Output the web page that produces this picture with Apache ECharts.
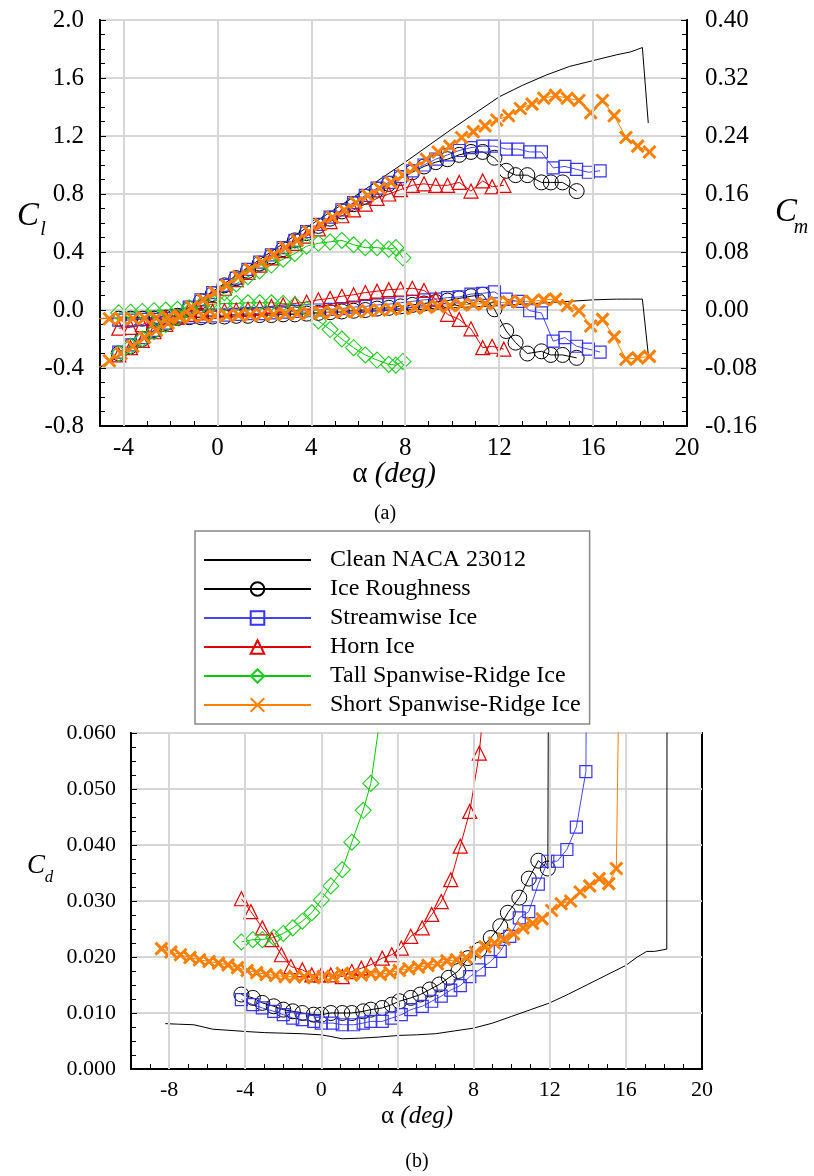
<!DOCTYPE html>
<html>
<head>
<meta charset="utf-8">
<script src="https://cdn.jsdelivr.net/npm/echarts@6/dist/echarts.min.js"></script>
<style>
html,body{margin:0;padding:0;background:#fff;}
#chart{width:814px;height:1176px;}
</style>
</head>
<body>
<div id="chart"></div>
<script>
// ---------------- DATA ----------------
const seriesNames = ['Clean NACA 23012','Ice Roughness','Streamwise Ice','Horn Ice','Tall Spanwise-Ridge Ice','Short Spanwise-Ridge Ice'];
const topXTicks = [-4,0,4,8,12,16,20];
const botXTicks = [-8,-4,0,4,8,12,16,20];

// Clean NACA 23012 (line only)
const cleanAlpha = [-5.5,-4,-2,0,2,4,6,8,10,12,13,14,15,16,17,17.6,18.1,18.35];
const cleanCl = [-0.45,-0.29,-0.07,0.15,0.37,0.59,0.80,1.02,1.25,1.47,1.55,1.62,1.68,1.72,1.76,1.78,1.81,1.29];
const cleanCm = [-0.012,-0.011,-0.010,-0.008,-0.006,-0.004,-0.002,0.000,0.003,0.006,0.008,0.010,0.012,0.014,0.015,0.015,0.015,-0.061];
const cleanAlphaD = [-8.2,-7.5,-6.7,-5.7,-4.8,-4.0,-3.0,-2.0,-1.0,0.0,0.5,1.1,2.0,3.0,4.1,5.0,6.0,7.0,8.0,9.0,10.0,11.0,12.0,13.0,14.0,15.0,16.0,16.6,17.1,17.5,18.15,18.2];
const cleanCd = [0.0081,0.0080,0.0079,0.0071,0.0069,0.0067,0.0065,0.0064,0.0063,0.0061,0.0058,0.0054,0.0055,0.0057,0.0060,0.0061,0.0063,0.0068,0.0073,0.0082,0.0094,0.0106,0.0118,0.0134,0.0151,0.0168,0.0185,0.0200,0.0210,0.0210,0.0214,0.2];

// Ice Roughness
const roughAlpha = [-4.2,-3.7,-3.2,-2.7,-2.2,-1.7,-1.2,-0.7,-0.2,0.3,0.8,1.3,1.8,2.3,2.8,3.3,3.8,4.3,4.8,5.3,5.8,6.3,6.8,7.3,7.8,8.3,8.8,9.3,9.8,10.3,10.8,11.3,11.8,12.3,12.7,13.2,13.8,14.2,14.7,15.3];
const roughCl = [-0.30,-0.25,-0.20,-0.14,-0.09,-0.04,0.01,0.06,0.11,0.17,0.22,0.27,0.32,0.37,0.42,0.48,0.53,0.58,0.63,0.68,0.73,0.78,0.83,0.87,0.91,0.95,0.99,1.02,1.04,1.07,1.09,1.09,1.05,0.96,0.93,0.93,0.88,0.88,0.88,0.82];
const roughCm = [-0.012,-0.012,-0.012,-0.012,-0.011,-0.011,-0.010,-0.010,-0.009,-0.009,-0.008,-0.008,-0.007,-0.007,-0.006,-0.006,-0.005,-0.004,-0.003,-0.002,-0.001,0.000,0.002,0.003,0.005,0.007,0.009,0.011,0.013,0.016,0.019,0.021,0.001,-0.029,-0.045,-0.060,-0.057,-0.062,-0.062,-0.066];
const roughAlphaD = [-4.2,-3.6,-3.1,-2.5,-2.0,-1.5,-1.0,-0.4,0.0,0.5,1.1,1.6,2.2,2.6,3.2,3.7,4.1,4.7,5.2,5.7,6.2,6.7,7.2,7.7,8.3,8.9,9.4,9.8,10.4,10.9,11.4,11.9,12.0];
const roughCd = [0.0133,0.0127,0.0118,0.0112,0.0106,0.0103,0.0100,0.0097,0.0097,0.0100,0.0100,0.0100,0.0103,0.0106,0.0109,0.0115,0.0121,0.0127,0.0133,0.0142,0.0151,0.0163,0.0175,0.0198,0.0213,0.0234,0.0255,0.0279,0.0306,0.0340,0.0372,0.0358,0.15];

// Streamwise Ice
const streamAlpha = [-4.2,-3.7,-3.2,-2.7,-2.2,-1.7,-1.2,-0.7,-0.2,0.3,0.8,1.3,1.8,2.3,2.8,3.3,3.8,4.3,4.8,5.3,5.8,6.3,6.8,7.3,7.8,8.3,8.8,9.3,9.8,10.3,10.8,11.3,11.8,12.3,12.8,13.3,13.8,14.3,14.8,15.3,15.8,16.3];
const streamCl = [-0.29,-0.24,-0.19,-0.14,-0.09,-0.04,0.02,0.07,0.12,0.17,0.22,0.28,0.33,0.38,0.43,0.48,0.54,0.59,0.64,0.69,0.74,0.79,0.84,0.88,0.92,0.96,1.00,1.04,1.07,1.10,1.12,1.13,1.13,1.11,1.11,1.09,1.09,0.98,0.99,0.97,0.95,0.96];
const streamCm = [-0.014,-0.014,-0.013,-0.013,-0.012,-0.011,-0.010,-0.009,-0.008,-0.007,-0.006,-0.005,-0.005,-0.004,-0.003,-0.002,-0.001,0.000,0.001,0.002,0.004,0.005,0.007,0.008,0.010,0.012,0.014,0.015,0.017,0.018,0.022,0.023,0.025,0.015,0.012,-0.001,-0.004,-0.043,-0.038,-0.050,-0.054,-0.058];
const streamAlphaD = [-4.2,-3.6,-3.1,-2.5,-2.0,-1.5,-1.0,-0.4,0.0,0.6,1.1,1.7,2.2,2.6,3.2,3.7,4.2,4.7,5.3,5.8,6.3,6.8,7.3,7.8,8.3,8.9,9.4,9.9,10.4,10.9,11.4,11.9,12.4,12.9,13.4,13.9,14.0];
const streamCd = [0.0124,0.0115,0.0109,0.0103,0.0097,0.0091,0.0088,0.0085,0.0082,0.0082,0.0079,0.0079,0.0082,0.0085,0.0085,0.0091,0.0097,0.0106,0.0112,0.0121,0.0130,0.0141,0.0149,0.0165,0.0177,0.0192,0.0210,0.0237,0.0270,0.0281,0.0330,0.0371,0.0371,0.0392,0.0432,0.0531,0.12];

// Horn Ice
const hornAlpha = [-4.2,-3.7,-3.2,-2.7,-2.2,-1.7,-1.2,-0.7,-0.2,0.3,0.8,1.3,1.8,2.3,2.8,3.3,3.8,4.3,4.8,5.3,5.8,6.3,6.8,7.3,7.8,8.3,8.8,9.3,9.8,10.3,10.8,11.3,11.7,12.2];
const hornCl = [-0.31,-0.26,-0.21,-0.15,-0.10,-0.05,0.00,0.05,0.10,0.15,0.21,0.26,0.31,0.36,0.41,0.46,0.51,0.56,0.61,0.65,0.69,0.73,0.77,0.80,0.83,0.86,0.87,0.86,0.86,0.88,0.82,0.89,0.85,0.86];
const hornCm = [-0.025,-0.024,-0.020,-0.014,-0.010,-0.008,-0.006,-0.004,-0.002,-0.001,0.000,0.001,0.003,0.005,0.007,0.009,0.011,0.014,0.016,0.019,0.021,0.024,0.026,0.028,0.029,0.030,0.027,0.015,-0.006,-0.013,-0.026,-0.052,-0.050,-0.054];
const hornAlphaD = [-4.2,-3.7,-3.1,-2.6,-2.1,-1.6,-1.0,-0.5,0.0,0.5,1.1,1.6,2.1,2.6,3.2,3.7,4.2,4.7,5.3,5.8,6.3,6.8,7.3,7.8,8.3,8.5];
const hornCd = [0.0304,0.0281,0.0252,0.0231,0.0204,0.0183,0.0177,0.0168,0.0168,0.0168,0.0165,0.0174,0.0180,0.0186,0.0198,0.0204,0.0216,0.0237,0.0252,0.0276,0.0299,0.0338,0.0398,0.0460,0.0564,0.064];

// Tall Spanwise-Ridge Ice
const tallAlpha = [-4.2,-3.7,-3.2,-2.7,-2.2,-1.7,-1.2,-0.7,-0.2,0.3,0.8,1.3,1.8,2.3,2.8,3.3,3.8,4.3,4.8,5.3,5.8,6.3,6.8,7.3,7.6,7.9];
const tallCl = [-0.30,-0.25,-0.20,-0.15,-0.10,-0.05,-0.01,0.03,0.06,0.12,0.18,0.23,0.27,0.31,0.35,0.39,0.44,0.46,0.47,0.48,0.45,0.43,0.43,0.42,0.43,0.36];
const tallCm = [-0.004,-0.003,-0.002,-0.001,0.000,0.001,0.003,0.006,0.008,0.009,0.009,0.010,0.010,0.010,0.009,0.007,0.001,-0.015,-0.027,-0.040,-0.052,-0.062,-0.069,-0.075,-0.076,-0.071];
const tallAlphaD = [-4.2,-3.6,-3.1,-2.5,-2.0,-1.5,-1.0,-0.5,0.0,0.5,1.1,1.6,2.2,2.6,3.1];
const tallCd = [0.0227,0.0231,0.0231,0.0235,0.0242,0.0252,0.0264,0.0279,0.0302,0.0327,0.0356,0.0405,0.0462,0.0510,0.063];

// Short Spanwise-Ridge Ice
const shortAlpha = [-5.1,-4.6,-4.1,-3.6,-3.1,-2.6,-2.1,-1.6,-1.1,-0.6,-0.1,0.4,0.9,1.4,1.9,2.4,2.9,3.4,3.9,4.4,4.9,5.4,5.9,6.4,6.9,7.4,7.9,8.4,8.9,9.4,9.9,10.4,10.9,11.4,11.9,12.4,12.9,13.4,13.9,14.4,14.9,15.4,15.9,16.4,16.9,17.4,17.9,18.4];
const shortCl = [-0.40,-0.35,-0.30,-0.25,-0.19,-0.14,-0.09,-0.04,0.02,0.07,0.12,0.17,0.23,0.28,0.33,0.38,0.43,0.48,0.54,0.59,0.64,0.69,0.74,0.79,0.84,0.88,0.93,0.98,1.04,1.09,1.13,1.19,1.23,1.27,1.31,1.34,1.39,1.42,1.46,1.48,1.46,1.445,1.36,1.445,1.34,1.19,1.13,1.09];
const shortCm = [-0.012,-0.012,-0.012,-0.012,-0.011,-0.011,-0.010,-0.010,-0.009,-0.009,-0.008,-0.008,-0.007,-0.007,-0.006,-0.006,-0.005,-0.005,-0.004,-0.004,-0.003,-0.002,-0.002,-0.001,0.000,0.001,0.002,0.003,0.004,0.005,0.006,0.007,0.008,0.009,0.010,0.011,0.012,0.012,0.014,0.015,0.006,-0.001,-0.022,-0.013,-0.037,-0.068,-0.066,-0.064];
const shortAlphaD = [-8.4,-7.9,-7.4,-6.9,-6.4,-5.9,-5.4,-4.9,-4.4,-3.9,-3.4,-2.9,-2.4,-1.9,-1.4,-0.9,-0.4,0.1,0.6,1.1,1.6,2.1,2.6,3.1,3.6,4.1,4.6,5.1,5.6,6.1,6.6,7.1,7.6,8.1,8.6,9.1,9.6,10.1,10.6,11.1,11.6,12.1,12.6,13.1,13.6,14.1,14.6,15.1,15.5,15.8];
const shortCd = [0.0215,0.0209,0.0204,0.0199,0.0195,0.0192,0.0189,0.0186,0.0181,0.0176,0.0172,0.0169,0.0167,0.0165,0.0165,0.0165,0.0163,0.0165,0.0165,0.0171,0.0168,0.0168,0.0170,0.0169,0.0172,0.0176,0.0179,0.0182,0.0185,0.0188,0.0193,0.0195,0.0199,0.0208,0.0218,0.0225,0.0232,0.0241,0.0252,0.0260,0.0268,0.0283,0.0295,0.0300,0.0316,0.0327,0.0340,0.0331,0.0358,0.11];

// ---------------- STYLE ----------------
const FONT = "'Liberation Serif','Times New Roman',serif";
const GRIDC = '#d6d6d6';
const XPATH = 'path://M0 0L10 10M10 0L0 10';
const styles = {
  'Clean NACA 23012':        {symbol:'none',     size:0,  line:'#000000', mark:'#000000', bw:1},
  'Ice Roughness':           {symbol:'circle',   size:15, line:'#000000', mark:'#000000', bw:1},
  'Streamwise Ice':          {symbol:'rect',     size:12, line:'#4545ff', mark:'#3535ff', bw:1.2},
  'Horn Ice':                {symbol:'triangle', size:14, line:'#e00000', mark:'#e00000', bw:1.2},
  'Tall Spanwise-Ridge Ice': {symbol:'diamond',  size:16, line:'#00cc00', mark:'#22cc22', bw:1.1},
  'Short Spanwise-Ridge Ice':{symbol:XPATH,      size:12, line:'#ff8000', mark:'#ff8000', bw:3}
};

function mk(name, xs, ys, xi, yi) {
  const st = styles[name];
  return {
    name: name, type: 'line', xAxisIndex: xi, yAxisIndex: yi,
    data: xs.map((x, i) => [x, ys[i]]),
    symbol: st.symbol === 'none' ? 'circle' : st.symbol,
    showSymbol: st.symbol !== 'none',
    symbolSize: st.size,
    lineStyle: {color: st.line, width: 1},
    itemStyle: {color: 'rgba(0,0,0,0)', borderColor: st.mark, borderWidth: st.bw},
    clip: true, z: 3, silent: true
  };
}

function gridLines(xi, yi, vals) {
  return {
    name: '_grid' + xi, type: 'line', xAxisIndex: xi, yAxisIndex: yi,
    data: [[-100, -100]], showSymbol: false, lineStyle: {opacity: 0}, z: 1, silent: true,
    markLine: {
      silent: true, symbol: ['none', 'none'], label: {show: false},
      lineStyle: {color: GRIDC, width: 2, type: 'solid'},
      data: vals.map(v => ({xAxis: v}))
    }
  };
}

const series = [
  gridLines(0, 0, [-4,0,4,8,12,16]),
  gridLines(1, 2, [-8,-4,0,4,8,12,16]),
  mk(seriesNames[0], cleanAlpha, cleanCl, 0, 0),
  mk(seriesNames[0], cleanAlpha, cleanCm, 0, 1),
  mk(seriesNames[0], cleanAlphaD, cleanCd, 1, 2),
  mk(seriesNames[1], roughAlpha, roughCl, 0, 0),
  mk(seriesNames[1], roughAlpha, roughCm, 0, 1),
  mk(seriesNames[1], roughAlphaD, roughCd, 1, 2),
  mk(seriesNames[2], streamAlpha, streamCl, 0, 0),
  mk(seriesNames[2], streamAlpha, streamCm, 0, 1),
  mk(seriesNames[2], streamAlphaD, streamCd, 1, 2),
  mk(seriesNames[3], hornAlpha, hornCl, 0, 0),
  mk(seriesNames[3], hornAlpha, hornCm, 0, 1),
  mk(seriesNames[3], hornAlphaD, hornCd, 1, 2),
  mk(seriesNames[4], tallAlpha, tallCl, 0, 0),
  mk(seriesNames[4], tallAlpha, tallCm, 0, 1),
  mk(seriesNames[4], tallAlphaD, tallCd, 1, 2),
  mk(seriesNames[5], shortAlpha, shortCl, 0, 0),
  mk(seriesNames[5], shortAlpha, shortCm, 0, 1),
  mk(seriesNames[5], shortAlphaD, shortCd, 1, 2)
];

const axisLine = {show: true, onZero: false, lineStyle: {color: '#000', width: 2}};
const tick = {show: true, inside: true, length: 6, lineStyle: {color: '#000', width: 1}};
const minor = (n) => ({show: true, splitNumber: n, length: 5, lineStyle: {color: '#000', width: 1}});

function xAx(grid, min, max, ticks, fs, margin) {
  return {
    type: 'value', gridIndex: grid, min: min, max: max, interval: 1,
    axisLine: axisLine, axisTick: Object.assign({}, tick, {length: 5}),
    splitLine: {show: false},
    axisLabel: {
      fontFamily: FONT, fontSize: fs, color: '#000', margin: margin,
      formatter: v => { const r = Math.round(v); return ticks.indexOf(r) >= 0 ? String(r) : ''; }
    }
  };
}

const option = {
  animation: false,
  backgroundColor: '#fff',
  grid: [
    {left: 100, top: 20, width: 587, height: 406, show: true, borderColor: '#000', borderWidth: 2, backgroundColor: 'rgba(0,0,0,0)'},
    {left: 131, top: 733, width: 571, height: 336, show: true, borderColor: '#000', borderWidth: 2, backgroundColor: 'rgba(0,0,0,0)'}
  ],
  xAxis: [
    xAx(0, -5, 20, topXTicks, 25, 10),
    xAx(1, -10, 20, botXTicks, 22, 10)
  ],
  yAxis: [
    {type: 'value', gridIndex: 0, min: -0.8, max: 2.0, interval: 0.4, position: 'left',
     axisLine: axisLine, axisTick: tick, minorTick: minor(4),
     splitLine: {show: true, lineStyle: {color: GRIDC, width: 2}},
     axisLabel: {fontFamily: FONT, fontSize: 25, color: '#000', margin: 16, formatter: v => v.toFixed(1)}},
    {type: 'value', gridIndex: 0, min: -0.16, max: 0.40, interval: 0.08, position: 'right',
     axisLine: axisLine, axisTick: tick, minorTick: minor(4),
     splitLine: {show: false},
     axisLabel: {fontFamily: FONT, fontSize: 25, color: '#000', margin: 18, formatter: v => v.toFixed(2)}},
    {type: 'value', gridIndex: 1, min: 0, max: 0.06, interval: 0.01, position: 'left',
     axisLine: axisLine, axisTick: tick, minorTick: minor(4),
     splitLine: {show: true, lineStyle: {color: GRIDC, width: 2}},
     axisLabel: {fontFamily: FONT, fontSize: 22, color: '#000', margin: 15, formatter: v => v.toFixed(3)}}
  ],
  legend: {
    show: true, orient: 'vertical', left: 195, top: 531,
    selectedMode: false,
    data: seriesNames.map((n, i) => i === 0 ? {name: n, itemStyle: {opacity: 0}} : {name: n}),
    itemWidth: 107, itemHeight: 17, itemGap: 5,
    padding: [17, 9, 7, 8],
    borderColor: '#888', borderWidth: 1.5, backgroundColor: '#fff',
    textStyle: {fontFamily: FONT, fontSize: 24, color: '#000', padding: [0, 0, 0, 14], lineHeight: 23}
  },
  graphic: [
    {type: 'text', x: 28, y: 216, style: {text: 'C', font: 'italic 33px ' + FONT, fill: '#000', align: 'center', verticalAlign: 'middle'}},
    {type: 'text', x: 43, y: 230, style: {text: 'l', font: 'italic 20px ' + FONT, fill: '#000', align: 'center', verticalAlign: 'middle'}},
    {type: 'text', x: 786, y: 212, style: {text: 'C', font: 'italic 33px ' + FONT, fill: '#000', align: 'center', verticalAlign: 'middle'}},
    {type: 'text', x: 801, y: 228, style: {text: 'm', font: 'italic 20px ' + FONT, fill: '#000', align: 'center', verticalAlign: 'middle'}},
    {type: 'text', x: 394, y: 474, style: {text: '{a|α }{d|(deg)}', align: 'center', verticalAlign: 'middle',
      rich: {a: {fontFamily: FONT, fontSize: 29, fill: '#000'}, d: {fontFamily: FONT, fontStyle: 'italic', fontSize: 29, fill: '#000'}}}},
    {type: 'text', x: 385, y: 514, style: {text: '(a)', font: '20px ' + FONT, fill: '#000', align: 'center', verticalAlign: 'middle'}},
    {type: 'text', x: 36, y: 866, style: {text: 'C', font: 'italic 27px ' + FONT, fill: '#000', align: 'center', verticalAlign: 'middle'}},
    {type: 'text', x: 49, y: 878, style: {text: 'd', font: 'italic 17px ' + FONT, fill: '#000', align: 'center', verticalAlign: 'middle'}},
    {type: 'text', x: 417, y: 1116, style: {text: '{a|α }{d|(deg)}', align: 'center', verticalAlign: 'middle',
      rich: {a: {fontFamily: FONT, fontSize: 25, fill: '#000'}, d: {fontFamily: FONT, fontStyle: 'italic', fontSize: 25, fill: '#000'}}}},
    {type: 'text', x: 417, y: 1162, style: {text: '(b)', font: '20px ' + FONT, fill: '#000', align: 'center', verticalAlign: 'middle'}}
  ],
  series: series
};

const chart = echarts.init(document.getElementById('chart'), null, {renderer: 'canvas'});
chart.setOption(option);
</script>
</body>
</html>
